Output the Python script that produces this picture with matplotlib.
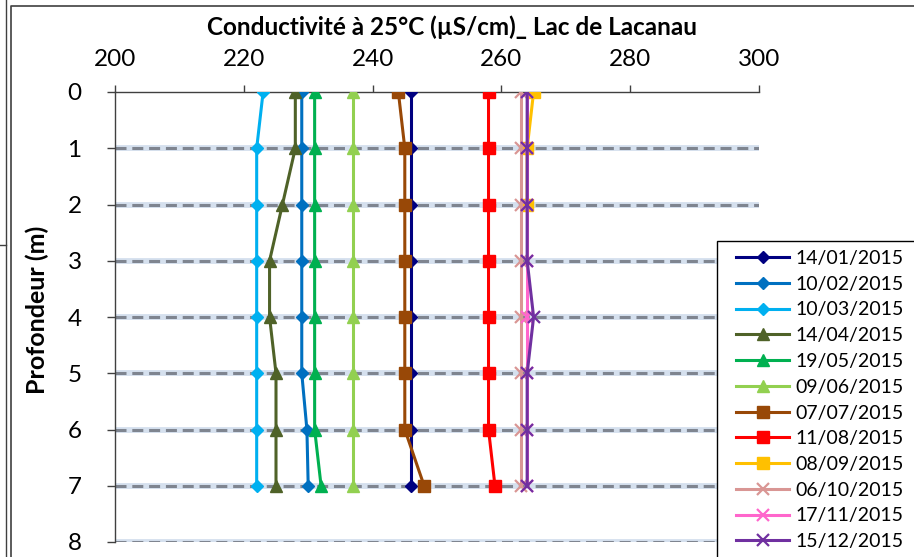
import numpy as np
import matplotlib
matplotlib.use("Agg")
import matplotlib.pyplot as plt
from matplotlib.lines import Line2D
from matplotlib.patches import Rectangle

plt.rcParams['font.family'] = ['Lato', 'DejaVu Sans']

depths = [0, 1, 2, 3, 4, 5, 6, 7]

dates = ["14/01/2015", "10/02/2015", "10/03/2015", "14/04/2015",
         "19/05/2015", "09/06/2015", "07/07/2015", "11/08/2015",
         "08/09/2015", "06/10/2015", "17/11/2015", "15/12/2015"]

c_jan = [246, 246, 246, 246, 246, 246, 246, 246]
c_feb = [229, 229, 229, 229, 229, 229, 229.8, 230]
c_mar = [223, 222, 222, 222, 222, 222, 222, 222]
c_apr = [228, 228, 226, 224, 224, 225, 225, 225]
c_may = [231, 231, 231, 231, 231, 231, 231, 232]
c_jun = [237, 237, 237, 237, 237, 237, 237, 237]
c_jul = [244, 245, 245, 245, 245, 245, 245, 248]
c_aug = [258, 258, 258, 258, 258, 258, 258, 259]
c_sep = [265, 264, 264]
c_oct = [263, 263, 263, 263, 263, 263, 263, 263]
c_nov = [264, 264, 264, 264, 264, 264, 264, 264]
c_dec = [264, 264, 264, 264, 265, 264, 264, 264]

series = [c_jan, c_feb, c_mar, c_apr, c_may, c_jun,
          c_jul, c_aug, c_sep, c_oct, c_nov, c_dec]
colors = ["#000080", "#0070C0", "#00B0F0", "#4F6228", "#00B050", "#92D050",
          "#984807", "#FF0000", "#FFC000", "#D99694", "#FF66CC", "#7030A0"]
markers = ["D", "D", "D", "^", "^", "^", "s", "s", "s", "x", "x", "x"]
msizes = {"D": 6.5, "^": 8.5, "s": 8.5, "x": 8}

fig = plt.figure(figsize=(9.14, 5.57), dpi=100)
W, H = 914, 557
ax = fig.add_axes([115 / W, 1 - 542 / H, 644 / W, 450 / H])

# chart borders (Excel chart area)
fig.add_artist(Line2D([11 / W, 11 / W, 1.0], [0, 1 - 6 / H, 1 - 6 / H],
                      transform=fig.transFigure, color="#404040", lw=1.2))
fig.add_artist(Line2D([6 / W, 6 / W], [0, 1], transform=fig.transFigure,
                      color="#404040", lw=1.0))
fig.add_artist(Line2D([0, 6 / W], [1 - 245 / H, 1 - 245 / H],
                      transform=fig.transFigure, color="#404040", lw=1.0))

# gridlines
for d in range(1, 9):
    ax.axhline(d, color="#D5E0EE", lw=4.2, zorder=0.5)
    ax.axhline(d, color="#7F8590", lw=2.2, dashes=(3.6, 1.9), zorder=0.6)

for vals, col, mk, lab in zip(series, colors, markers, dates):
    kw = dict(color=col, lw=2.2, marker=mk, markersize=msizes[mk], label=lab,
              zorder=3)
    if mk == "x":
        kw["markeredgewidth"] = 1.6
    ax.plot(vals, depths[:len(vals)], **kw)

ax.set_xlim(200, 300)
ax.set_ylim(8, 0)
ax.set_xticks([200, 220, 240, 260, 280, 300])
ax.set_yticks(range(0, 9))
ax.xaxis.tick_top()
ax.tick_params(axis='x', direction='out', length=5, width=1, color="#404040",
               labelsize=17.5, pad=11)
ax.tick_params(axis='y', direction='out', length=6, width=1, color="#404040",
               labelsize=17.5, pad=18)
for s in ["right", "bottom"]:
    ax.spines[s].set_visible(False)
for s in ["left", "top"]:
    ax.spines[s].set_color("#404040")
    ax.spines[s].set_linewidth(1)

ax.set_ylabel("Profondeur (m)", fontsize=18, fontweight="bold")
ax.yaxis.set_label_coords(-0.102, 0.515)
fig.text(452 / W, 1 - 27 / H, "Conductivité à 25°C (µS/cm)_ Lac de Lacanau",
         ha="center", va="center", fontsize=17.5, fontweight="bold")

# legend box runs past the figure edge, as in the source
fig.add_artist(Rectangle((717 / W, -0.05), 0.3, 1 - 241 / H + 0.05,
                         transform=fig.transFigure, facecolor="white",
                         edgecolor="black", lw=1, zorder=5))
leg = fig.legend(loc="upper left", bbox_to_anchor=(736 / W, 1 - 250 / H),
                 fontsize=14, frameon=False, handlelength=2.75,
                 labelspacing=0.45, borderpad=0, handletextpad=0.3,
                 borderaxespad=0)
leg.set_zorder(6)

fig.savefig("out.png", dpi=100)
